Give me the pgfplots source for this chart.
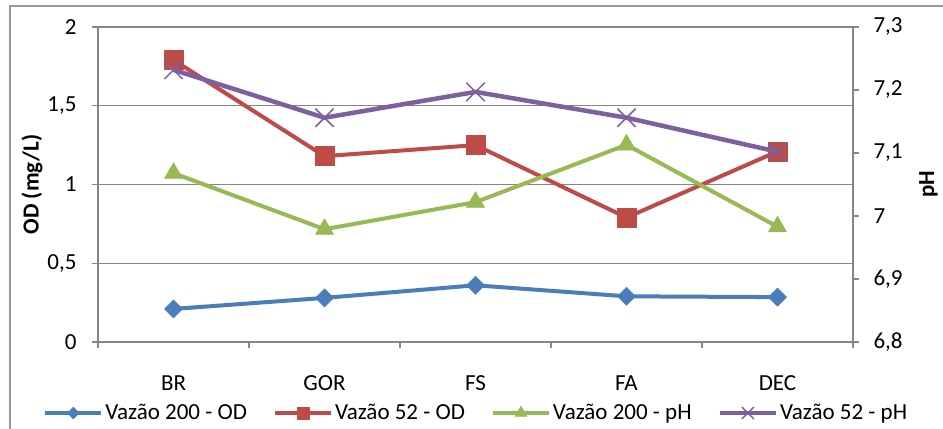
\documentclass[border=0pt]{standalone}
\usepackage{fontspec}
\setmainfont{Carlito}
\usepackage{pgfplots}
\pgfplotsset{compat=1.18}
\definecolor{cA}{HTML}{4A7EBB}
\definecolor{cB}{HTML}{BE4B48}
\definecolor{cC}{HTML}{98B954}
\definecolor{cD}{HTML}{7D60A0}
\definecolor{gr}{HTML}{868686}
\pgfplotsset{
  base/.style={
    at={(98bp,86bp)}, anchor=south west, scale only axis,
    width=755bp, height=315bp,
    xmin=-0.5, xmax=4.5, clip=false,
    axis line style={-, gr, line width=1.5bp},
    major tick length=6bp, minor tick length=6bp, tick align=outside,
    tick style={gr, line width=1.5bp},
    font=\fontsize{23bp}{27bp}\selectfont,
    /pgf/number format/assume math mode=true,
  },
  sA/.style={cA, line width=4bp, line join=round, mark=square*, mark size=6.4bp, mark options={rotate=45, solid, fill=cA, draw=cA, line width=0.5bp}},
  sB/.style={cB, line width=4bp, line join=round, mark=square*, mark size=9.5bp, mark options={solid, fill=cB, draw=cB, line width=0.5bp}},
  sC/.style={cC, line width=4bp, line join=round, mark=triangle*, mark size=10.5bp, mark options={solid, fill=cC, draw=cC, line width=0.5bp}},
  sD/.style={cD, line width=4.5bp, line join=round, mark=x, mark size=13bp, mark options={solid, draw=cD, line width=1.5bp}},
}
\begin{document}
\begin{tikzpicture}[x=1bp,y=1bp]
\fill[white] (0,0) rectangle (943,428);
\draw[gr!85, line width=1.5bp] (10,-20) -- (10,422) -- (960,422);
\begin{axis}[base,
  ymin=0, ymax=2, ytick={0,0.5,1,1.5,2}, yticklabels={0,{0,5},1,{1,5},2},
  axis y line*=left, axis x line*=bottom,
  xtick={0,1,2,3,4}, xticklabels={BR,GOR,FS,FA,DEC},
  minor xtick={-0.5,0.5,1.5,2.5,3.5,4.5},
  major x tick style={draw=none},
  xticklabel style={yshift=-24bp},
  yticklabel style={xshift=-12bp},
  ymajorgrids, y grid style={gr, line width=1.5bp},
  ylabel={\bfseries OD (mg/L)},
  every axis y label/.style={at={(axis description cs:-0.0874,0.5)}, rotate=90, anchor=center},
]
\addplot[sA] coordinates {(0,0.21)(1,0.28)(2,0.36)(3,0.29)(4,0.285)};
\addplot[sB] coordinates {(0,1.79)(1,1.18)(2,1.25)(3,0.79)(4,1.21)};
\end{axis}
\begin{axis}[base,
  ymin=6.8, ymax=7.3, ytick={6.8,6.9,7,7.1,7.2,7.3},
  yticklabels={{6,8},{6,9},7,{7,1},{7,2},{7,3}},
  yticklabel style={xshift=11bp},
  axis y line*=right, axis x line=none, xtick=\empty,
  ylabel={\bfseries pH},
  every axis y label/.style={at={(axis description cs:1.1,0.5)}, rotate=90, anchor=center},
  legend columns=4,
  legend image code/.code={\draw[#1, mark repeat=2, mark phase=2, /tikz/every mark/.append style={scale=0.65}] plot coordinates {(0bp,0bp)(28bp,0bp)(56bp,0bp)};},
  legend style={at={(0.501,-0.2254)}, anchor=center, draw=none, fill=none,
    font=\fontsize{23bp}{27bp}\selectfont, inner sep=0pt,
    nodes={inner sep=2bp},
    /tikz/every even column/.append style={column sep=24bp}},
]
\addlegendimage{sA}
\addlegendentry{Vazão 200 - OD}
\addlegendimage{sB}
\addlegendentry{Vazão 52 - OD}
\addplot[sC] coordinates {(0,7.068)(1,6.979)(2,7.022)(3,7.113)(4,6.983)};
\addlegendentry{Vazão 200 - pH}
\addplot[sD] coordinates {(0,7.232)(1,7.156)(2,7.197)(3,7.156)(4,7.102)};
\addlegendentry{Vazão 52 - pH}
\end{axis}
\pgfresetboundingbox
\path (0,0) rectangle (943,428);
\end{tikzpicture}
\end{document}
